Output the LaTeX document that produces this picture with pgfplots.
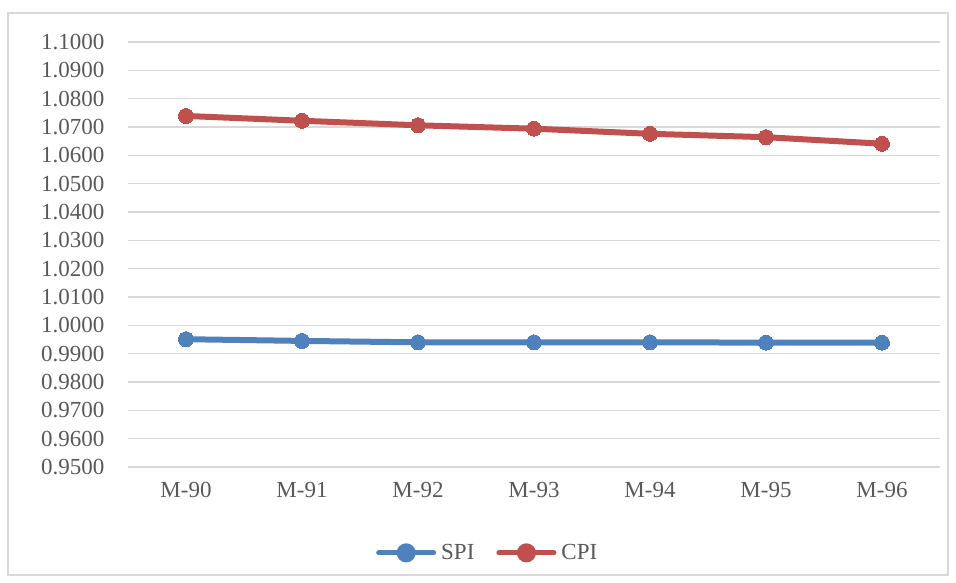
\documentclass[border=0pt]{standalone}
\usepackage{fontspec}
\setmainfont{Liberation Serif}
\usepackage{pgfplots}
\pgfplotsset{compat=1.18}
\definecolor{spiblue}{HTML}{4F81BD}
\definecolor{cpired}{HTML}{C0504D}
\definecolor{gridgray}{HTML}{D9D9D9}
\definecolor{txtgray}{HTML}{595959}
\begin{document}
\begin{tikzpicture}
\begin{axis}[
  scale only axis,
  width=812pt, height=425pt,
  xmin=-0.5, xmax=6.5,
  ymin=0.95, ymax=1.10,
  ytick={0.95,0.96,...,1.105},
  xtick={0,...,6},
  xticklabels={M-90,M-91,M-92,M-93,M-94,M-95,M-96},
  ymajorgrids,
  grid style={gridgray, line width=1.5pt},
  axis line style={draw=none},
  axis x line*=bottom,
  x axis line style={gridgray, line width=1.5pt},
  major tick length=0pt,
  tick label style={font=\fontsize{23}{27}\selectfont, text=txtgray},
  /pgf/number format/.cd, fixed, fixed zerofill, precision=4, assume math mode=true,
  /pgfplots/.cd,
  yticklabel style={xshift=-20pt},
  xticklabel style={yshift=-12pt},
  legend style={draw=none, at={(axis description cs:0.443,-0.202)}, anchor=center,
    font=\fontsize{23}{27}\selectfont, text=txtgray, legend columns=2,
    /tikz/every odd column/.append style={column sep=3pt},
    /tikz/every even column/.append style={column sep=20pt}},
  legend image code/.code={
    \draw[#1, line width=5pt, line cap=round] (0pt,0pt) -- (55pt,0pt);
    \fill[#1] (27.5pt,0pt) circle (6.5pt);},
]
\addplot[spiblue, line width=6pt, mark=*, mark size=7.5pt, mark options={fill=spiblue, draw=spiblue, line width=0pt}]
  coordinates {(0,0.9951) (1,0.9945) (2,0.9940) (3,0.9940) (4,0.9940) (5,0.9939) (6,0.9939)};
\addlegendentry{SPI}
\addplot[cpired, line width=6pt, mark=*, mark size=7.5pt, mark options={fill=cpired, draw=cpired, line width=0pt}]
  coordinates {(0,1.0739) (1,1.0722) (2,1.0706) (3,1.0694) (4,1.0676) (5,1.0664) (6,1.0641)};
\addlegendentry{CPI}
\end{axis}
\path ([shift={(-128pt,-116pt)}]current axis.south west) rectangle ++(956pt,583pt);
\draw[gridgray, line width=1.2pt] ([shift={(-120pt,-108pt)}]current axis.south west) rectangle ([shift={(820pt,454pt)}]current axis.south west);
\end{tikzpicture}
\end{document}
